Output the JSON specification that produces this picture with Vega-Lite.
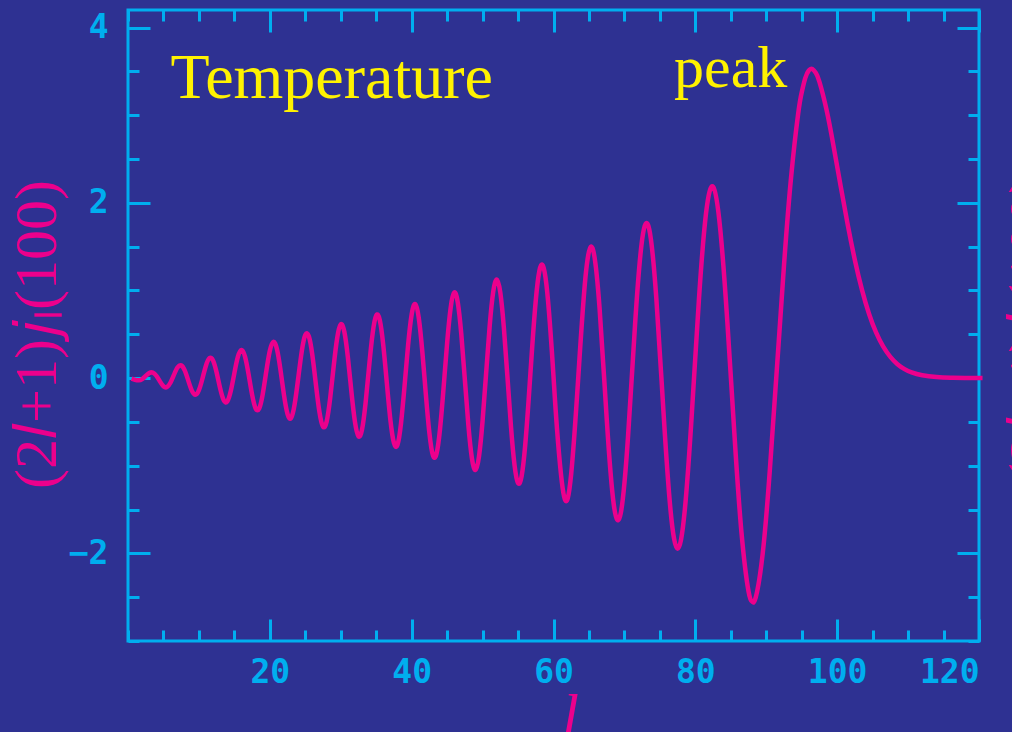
{
  "$schema": "https://vega.github.io/schema/vega-lite/v6.json",
  "width": 851,
  "height": 631,
  "autosize": {"type": "none"},
  "padding": {"left": 128, "top": 10, "right": 33, "bottom": 91},
  "background": "#2e3192",
  "config": {
    "view": {"stroke": "#00aeef", "strokeWidth": 3},
    "axis": {
      "grid": false,
      "domain": false,
      "tickColor": "#00aeef",
      "tickWidth": 3,
      "labelColor": "#00aeef",
      "labelFont": "DejaVu Sans Mono",
      "labelFontSize": 33,
      "labelFontWeight": "bold",
      "titleColor": "#ec008c",
      "titleFont": "Liberation Serif",
      "titleFontWeight": "normal"
    }
  },
  "datasets": {
    "curve": [
      {"l":0.5,"value":-0.0051},{"l":1,"value":-0.0193},{"l":1.5,"value":-0.026},{"l":2,"value":-0.0108},{"l":2.5,"value":0.024},{"l":3,"value":0.0574},{"l":3.5,"value":0.0625},{"l":4,"value":0.0263},{"l":4.5,"value":-0.0375},{"l":5,"value":-0.0929},{"l":5.5,"value":-0.1022},{"l":6,"value":-0.0506},{"l":6.5,"value":0.0409},{"l":7,"value":0.123},{"l":7.5,"value":0.1455},{"l":8,"value":0.0872},{"l":8.5,"value":-0.0287},{"l":9,"value":-0.1426},{"l":9.5,"value":-0.1899},{"l":10,"value":-0.1374},{"l":10.5,"value":-0.0044},{"l":11,"value":0.1439},{"l":11.5,"value":0.2286},{"l":12,"value":0.1992},{"l":12.5,"value":0.0623},{"l":13,"value":-0.1185},{"l":13.5,"value":-0.252},{"l":14,"value":-0.266},{"l":14.5,"value":-0.1454},{"l":15,"value":0.0568},{"l":15.5,"value":0.2439},{"l":16,"value":0.3216},{"l":16.5,"value":0.2457},{"l":17,"value":0.0451},{"l":17.5,"value":-0.1891},{"l":18,"value":-0.3466},{"l":18.5,"value":-0.3464},{"l":19,"value":-0.1821},{"l":19.5,"value":0.0762},{"l":20,"value":0.3116},{"l":20.5,"value":0.4142},{"l":21,"value":0.3316},{"l":21.5,"value":0.0942},{"l":22,"value":-0.1962},{"l":22.5,"value":-0.4113},{"l":23,"value":-0.4551},{"l":23.5,"value":-0.2977},{"l":24,"value":-0.0034},{"l":24.5,"value":0.3037},{"l":25,"value":0.4918},{"l":25.5,"value":0.4767},{"l":26,"value":0.2593},{"l":26.5,"value":-0.0753},{"l":27,"value":-0.3895},{"l":27.5,"value":-0.554},{"l":28,"value":-0.4999},{"l":28.5,"value":-0.2363},{"l":29,"value":0.1312},{"l":29.5,"value":0.4577},{"l":30,"value":0.6125},{"l":30.5,"value":0.5308},{"l":31,"value":0.2397},{"l":31.5,"value":-0.1531},{"l":32,"value":-0.4983},{"l":32.5,"value":-0.6631},{"l":33,"value":-0.5875},{"l":33.5,"value":-0.2837},{"l":34,"value":0.1335},{"l":34.5,"value":0.5122},{"l":35,"value":0.7139},{"l":35.5,"value":0.6624},{"l":36,"value":0.3727},{"l":36.5,"value":-0.0571},{"l":37,"value":-0.4769},{"l":37.5,"value":-0.7396},{"l":38,"value":-0.761},{"l":38.5,"value":-0.514},{"l":39,"value":-0.0867},{"l":39.5,"value":0.3792},{"l":40,"value":0.7282},{"l":40.5,"value":0.8443},{"l":41,"value":0.6865},{"l":41.5,"value":0.3033},{"l":42,"value":-0.1856},{"l":42.5,"value":-0.627},{"l":43,"value":-0.8821},{"l":43.5,"value":-0.8656},{"l":44,"value":-0.5812},{"l":44.5,"value":-0.1122},{"l":45,"value":0.3997},{"l":45.5,"value":0.8033},{"l":46,"value":0.9756},{"l":46.5,"value":0.8643},{"l":47,"value":0.4996},{"l":47.5,"value":-0.0176},{"l":48,"value":-0.5395},{"l":48.5,"value":-0.9184},{"l":49,"value":-1.0485},{"l":49.5,"value":-0.8912},{"l":50,"value":-0.4872},{"l":50.5,"value":0.0561},{"l":51,"value":0.5943},{"l":51.5,"value":0.985},{"l":52,"value":1.1248},{"l":52.5,"value":0.9759},{"l":53,"value":0.5758},{"l":53.5,"value":0.0213},{"l":54,"value":-0.5473},{"l":54.5,"value":-0.99},{"l":55,"value":-1.1985},{"l":55.5,"value":-1.1211},{"l":56,"value":-0.7751},{"l":56.5,"value":-0.2405},{"l":57,"value":0.3587},{"l":57.5,"value":0.885},{"l":58,"value":1.2185},{"l":58.5,"value":1.2844},{"l":59,"value":1.0671},{"l":59.5,"value":0.6133},{"l":60,"value":0.02},{"l":60.5,"value":-0.5857},{"l":61.5,"value":-1.3551},{"l":62.5,"value":-1.0881},{"l":63.5,"value":0.0166},{"l":64.5,"value":1.1448},{"l":65.5,"value":1.4826},{"l":66.5,"value":0.7927},{"l":67.5,"value":-0.459},{"l":68.5,"value":-1.444},{"l":69.5,"value":-1.5356},{"l":70.5,"value":-0.6794},{"l":71.5,"value":0.6091},{"l":72.5,"value":1.5809},{"l":73.5,"value":1.6991},{"l":74.5,"value":0.9093},{"l":75.5,"value":-0.3738},{"l":76.5,"value":-1.5045},{"l":77.5,"value":-1.9488},{"l":78.5,"value":-1.5171},{"l":79.5,"value":-0.4143},{"l":80.5,"value":0.8878},{"l":81.5,"value":1.8739},{"l":82.5,"value":2.1829},{"l":83.5,"value":1.7103},{"l":84.5,"value":0.6589},{"l":85.5,"value":-0.6248},{"l":86.5,"value":-1.7556},{"l":87.5,"value":-2.4324},{"l":88,"value":-2.548},{"l":88.5,"value":-2.5086},{"l":89.5,"value":-2.0016},{"l":90.5,"value":-1.0569},{"l":91.5,"value":0.1069},{"l":92.5,"value":1.2835},{"l":93.5,"value":2.2891},{"l":94.5,"value":3.016},{"l":95,"value":3.2593},{"l":95.5,"value":3.4224},{"l":96,"value":3.5095},{"l":96.5,"value":3.5255},{"l":97,"value":3.4798},{"l":97.5,"value":3.3808},{"l":98.5,"value":3.0616},{"l":99.5,"value":2.6421},{"l":100.5,"value":2.1871},{"l":101.5,"value":1.7445},{"l":102.5,"value":1.3456},{"l":103.5,"value":1.0066},{"l":104.5,"value":0.7318},{"l":105.5,"value":0.5181},{"l":106.5,"value":0.3585},{"l":107.5,"value":0.2414},{"l":108.5,"value":0.1588},{"l":109.5,"value":0.1027},{"l":110.5,"value":0.0643},{"l":112,"value":0.0315},{"l":114,"value":0.0113},{"l":116,"value":0.0038},{"l":118,"value":0.0012},{"l":120.5,"value":0.0003}
    ],
    "notes": [
      {"l": 6, "value": 3.2, "text": "Temperature"},
      {"l": 77, "value": 3.32, "text": "peak"}
    ]
  },
  "layer": [
    {
      "data": {"name": "curve"},
      "mark": {"type": "line", "interpolate": "natural", "stroke": "#ec008c", "strokeWidth": 4.5, "clip": false},
      "encoding": {
        "x": {"field": "l", "type": "quantitative", "scale": {"domain": [0, 120], "nice": false, "zero": false},
              "axis": {"orient": "bottom", "values": [0,5,10,15,20,25,30,35,40,45,50,55,60,65,70,75,80,85,90,95,100,105,110,115,120], "tickSize": -11, "labels": false, "title": null}},
        "y": {"field": "value", "type": "quantitative", "scale": {"domain": [-3, 4.2], "nice": false, "zero": false},
              "axis": {"orient": "left", "values": [-3,-2.5,-2,-1.5,-1,-0.5,0,0.5,1,1.5,2,2.5,3,3.5,4], "tickSize": -11, "labels": false, "title": null}}
      }
    },
    {
      "data": {"name": "notes"},
      "transform": [{"filter": "datum.text === 'Temperature'"}],
      "mark": {"type": "text", "align": "left", "baseline": "alphabetic", "font": "Liberation Serif", "fontSize": 64, "color": "#fff200"},
      "encoding": {
        "x": {"field": "l", "type": "quantitative", "scale": {"domain": [0, 120], "nice": false, "zero": false},
              "axis": {"orient": "bottom", "values": [20,40,60,80,100,120], "tickSize": -22, "labelPadding": 37,
                       "title": "l", "titleFont": "Liberation Serif", "titleFontStyle": "italic", "titleFontSize": 60, "titleColor": "#ec008c", "titleX": 442, "titleY": 93, "titleAngle": 0, "titleAlign": "center", "titleBaseline": "alphabetic"}},
        "y": {"field": "value", "type": "quantitative", "scale": {"domain": [-3, 4.2], "nice": false, "zero": false},
              "axis": {"orient": "left", "values": [-2,0,2,4], "tickSize": -22, "labelPadding": 42,
                       "title": "(2𝑙+1)𝑗ₗ(100)", "titleFont": "Liberation Serif", "titleFontSize": 60, "titleColor": "#ec008c", "titleX": -91, "titleY": 324, "titleAngle": -90, "titleAlign": "center", "titleBaseline": "middle"}},
        "text": {"field": "text"}
      }
    },
    {
      "data": {"name": "notes"},
      "transform": [{"filter": "datum.text === 'peak'"}],
      "mark": {"type": "text", "align": "left", "baseline": "alphabetic", "font": "Liberation Serif", "fontSize": 60, "color": "#fff200"},
      "encoding": {
        "x": {"field": "l", "type": "quantitative", "scale": {"domain": [0, 120], "nice": false, "zero": false},
              "axis": {"orient": "top", "values": [0,5,10,15,20,25,30,35,40,45,50,55,60,65,70,75,80,85,90,95,100,105,110,115,120], "tickSize": -11, "labels": false, "title": null}},
        "y": {"field": "value", "type": "quantitative", "scale": {"domain": [-3, 4.2], "nice": false, "zero": false},
              "axis": {"orient": "right", "values": [-3,-2.5,-2,-1.5,-1,-0.5,0,0.5,1,1.5,2,2.5,3,3.5,4], "tickSize": -11, "labels": false, "title": null}},
        "text": {"field": "text"}
      }
    },
    {
      "data": {"name": "curve"},
      "mark": {"type": "line", "strokeOpacity": 0, "clip": false},
      "encoding": {
        "x": {"field": "l", "type": "quantitative", "scale": {"domain": [0, 120], "nice": false, "zero": false},
              "axis": {"orient": "top", "values": [20,40,60,80,100,120], "tickSize": -22, "labels": false, "title": null}},
        "y": {"field": "value", "type": "quantitative", "scale": {"domain": [-3, 4.2], "nice": false, "zero": false},
              "axis": {"orient": "right", "values": [-2,0,2,4], "tickSize": -22, "labels": false,
                       "title": "(2𝑙+1)𝑗ₗ(100)", "titleFont": "Liberation Serif", "titleFontSize": 60, "titleColor": "#ec008c", "titleX": 52, "titleY": 318, "titleAngle": -90, "titleAlign": "center", "titleBaseline": "middle"}}
      }
    }
  ],
  "resolve": {"axis": {"x": "independent", "y": "independent"}}
}
